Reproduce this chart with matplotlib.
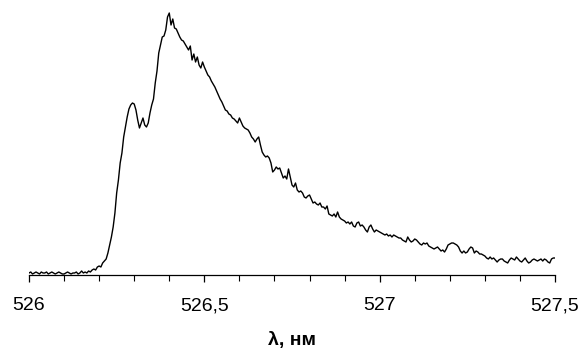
"""
plot.py - emission line profile, intensity vs wavelength (526-527.5 nm).
"""

import matplotlib
matplotlib.use("Agg")
import matplotlib.pyplot as plt
import numpy as np
from matplotlib.ticker import MultipleLocator, FuncFormatter

# wavelength grid of the spectrometer, nm (step 0.005 nm)
WL_START = 526.0
WL_STOP = 527.5
N_POINTS = 301

intensity = [
    2, 3, 1, 2, 3, 2, 1, 3, 2, 2, 3, 1, 2, 3, 2, 1, 2, 3, 2, 1,
    1, 2, 3, 2, 1, 2, 2, 3, 1, 2, 4, 2, 3, 2, 4, 3, 5, 6, 5, 8,
    9, 8, 12, 14, 16, 22, 30, 38, 48, 62, 82, 95, 112, 122, 138, 148, 158, 166, 170, 172,
    171, 165, 155, 147, 152, 157, 150, 148, 152, 162, 170, 176, 192, 204, 222, 230, 238, 239, 245, 258,
    262, 250, 256, 247, 246, 242, 238, 235, 234, 231, 228, 225, 229, 215, 221, 213, 218, 210, 207, 213,
    208, 204, 200, 198, 194, 191, 188, 184, 180, 176, 173, 169, 165, 164, 161, 160, 157, 156, 154, 152,
    157, 153, 149, 147, 146, 145, 142, 138, 136, 133, 136, 138, 130, 123, 120, 118, 119, 117, 112, 103,
    105, 108, 106, 107, 102, 97, 99, 96, 106, 98, 90, 88, 92, 85, 83, 84, 82, 78, 77, 79,
    80, 76, 72, 73, 71, 70, 72, 68, 68, 66, 69, 61, 60, 59, 61, 58, 63, 58, 56, 55,
    54, 52, 53, 51, 53, 49, 48, 52, 53, 49, 50, 48, 45, 43, 48, 50, 46, 43, 45, 44,
    43, 42, 41, 40, 41, 39, 40, 38, 40, 39, 38, 37, 37, 35, 34, 33, 38, 35, 33, 34,
    36, 35, 33, 31, 30, 32, 31, 32, 29, 28, 27, 26, 27, 28, 26, 24, 25, 23, 26, 30,
    31, 32, 32, 31, 30, 28, 24, 22, 24, 22, 23, 26, 28, 27, 22, 24, 23, 21, 21, 20,
    19, 17, 16, 18, 16, 17, 15, 13, 15, 16, 16, 14, 13, 12, 15, 17, 16, 15, 18, 16,
    14, 13, 15, 17, 14, 12, 13, 15, 16, 15, 14, 15, 16, 14, 16, 15, 13, 12, 16, 17,
    17,
]

x_ticks = [526.0, 526.5, 527.0, 527.5]
x_label = "λ, нм"

wavelength = np.linspace(WL_START, WL_STOP, N_POINTS)

fig = plt.figure(figsize=(5.84, 3.51), dpi=100)
ax = fig.add_axes([29 / 584, 76 / 351, 526 / 584, 265 / 351])

ax.plot(wavelength, intensity, color="black", linewidth=1.0)

ax.set_xlim(WL_START, WL_STOP)
ax.set_ylim(0, 265)

for side in ("left", "right", "top"):
    ax.spines[side].set_visible(False)
ax.spines["bottom"].set_linewidth(0.9)
ax.set_yticks([])

ax.set_xticks(x_ticks)
ax.xaxis.set_minor_locator(MultipleLocator(0.1))
ax.xaxis.set_major_formatter(FuncFormatter(lambda v, _: f"{v:g}".replace(".", ",")))
ax.tick_params(axis="x", which="major", direction="out", length=5, width=0.9,
               pad=11, labelsize=14)
ax.tick_params(axis="x", which="minor", direction="out", length=4, width=0.8)
for lab in ax.get_xticklabels():
    lab.set_family(["Liberation Sans", "DejaVu Sans"])

ax.set_xlabel(x_label, fontsize=14, fontweight="bold",
              family=["Liberation Sans", "DejaVu Sans"], labelpad=13)

fig.savefig("out.png", dpi=100)
